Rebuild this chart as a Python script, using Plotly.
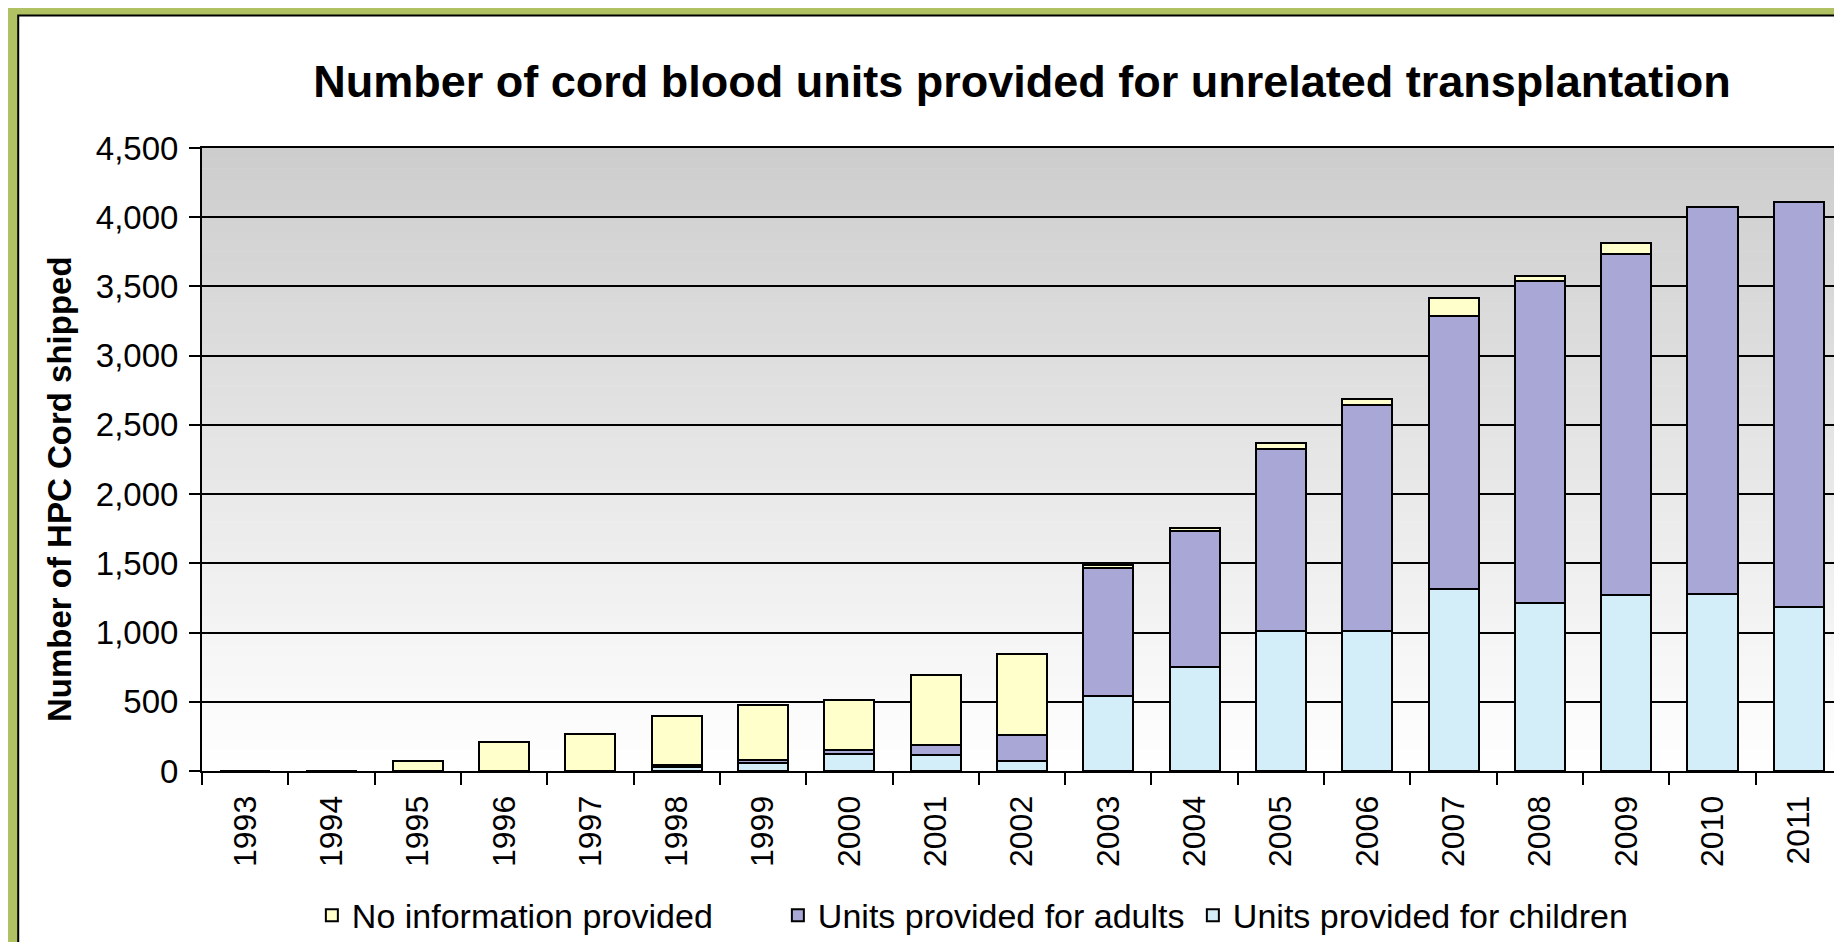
import plotly.graph_objects as go

# values
years = [str(y) for y in range(1993, 2012)]
children = [0, 0, 0, 0, 0, 30, 60, 120, 115, 72, 545, 750, 1013, 1008, 1313, 1217, 1274, 1277, 1183]
adults = [0, 0, 0, 0, 0, 10, 17, 30, 75, 190, 920, 980, 1313, 1639, 1974, 2319, 2460, 2800, 2930]
no_info = [0, 0, 75, 210, 265, 356, 403, 360, 505, 585, 20, 28, 44, 41, 128, 39, 78, 0, 0]
y_ticks = [0, 500, 1000, 1500, 2000, 2500, 3000, 3500, 4000, 4500]

FONT = "Arial, Liberation Sans, sans-serif"
W, H = 1842, 942
L, R, T, B = 194, 6, 140, 177
plot_w = W - L - R
plot_h = H - T - B


def px_to_paper_x(px):
    return (px - L) / plot_w


def px_to_paper_y(py):
    return (H - B - py) / plot_h


fig = go.Figure()

# (name, values, fill colour, legend entry width in px)
series = [
    ("Units provided for children", children, "#D3EEF8", None),
    ("Units provided for adults", adults, "#A9A7D6", 370),
    ("No information provided", no_info, "#FFFFCC", 421),
]
for name, vals, col, lw in series:
    fig.add_trace(go.Bar(
        x=years, y=vals, name=name,
        marker=dict(color=col, line=dict(color="black", width=2)),
        legendwidth=lw,
    ))

shapes = []
# white chart panel with black outline on the green frame
shapes.append(dict(
    type="rect", xref="paper", yref="paper", layer="below",
    x0=px_to_paper_x(10), x1=px_to_paper_x(1839),
    y0=px_to_paper_y(939), y1=px_to_paper_y(7),
    fillcolor="white", line=dict(color="black", width=2),
))
# grey-to-white gradient in the plot area
n_strips = 60
top_c, bot_c = (205, 205, 205), (255, 255, 255)
for i in range(n_strips):
    t = i / (n_strips - 1)
    c = tuple(int(round(top_c[k] + (bot_c[k] - top_c[k]) * t)) for k in range(3))
    shapes.append(dict(
        type="rect", xref="paper", yref="paper", layer="below",
        x0=0, x1=1, y0=1 - (i + 1) / n_strips, y1=1 - i / n_strips + 0.001,
        fillcolor="rgb(%d,%d,%d)" % c, line=dict(width=0),
    ))

fig.update_layout(
    width=W, height=H,
    barmode="stack",
    bargap=0.42,
    paper_bgcolor="#AFC163",
    plot_bgcolor="rgba(0,0,0,0)",
    margin=dict(l=L, r=R, t=T, b=B),
    font=dict(family=FONT, color="black"),
    shapes=shapes,
    title=dict(
        text="<b>Number of cord blood units provided for unrelated transplantation</b>",
        font=dict(size=45, family=FONT, color="black"),
        x=0.5, xref="paper", xanchor="center",
        y=1 - 73 / H, yref="container", yanchor="middle",
    ),
    legend=dict(
        orientation="h", traceorder="reversed",
        x=px_to_paper_x(304), xanchor="left",
        y=px_to_paper_y(910), yanchor="middle",
        font=dict(size=34, family=FONT),
        bgcolor="rgba(0,0,0,0)",
        itemwidth=30,
    ),
    showlegend=True,
    annotations=[dict(
        text="<b>Number of HPC Cord shipped</b>",
        textangle=-90, showarrow=False,
        xref="paper", yref="paper",
        x=px_to_paper_x(52), y=px_to_paper_y(482),
        xanchor="center", yanchor="middle",
        font=dict(size=33, family=FONT, color="black"),
    )],
)

fig.update_xaxes(
    type="category",
    tickangle=-90,
    tickfont=dict(size=32, family=FONT),
    ticks="outside", ticklen=12, tickwidth=2, tickcolor="black",
    tickson="boundaries",
    ticklabelstandoff=10,
    showline=True, linecolor="black", linewidth=2, mirror=True,
    showgrid=False,
)
fig.update_yaxes(
    range=[0, 4500],
    tickvals=y_ticks,
    tickformat=",d",
    tickfont=dict(size=33, family=FONT),
    ticks="outside", ticklen=11, tickwidth=2, tickcolor="black",
    ticklabelstandoff=4,
    showline=True, linecolor="black", linewidth=2, mirror=True,
    showgrid=True, gridcolor="black", gridwidth=2,
    zeroline=False,
)

fig.write_html("out.html")
